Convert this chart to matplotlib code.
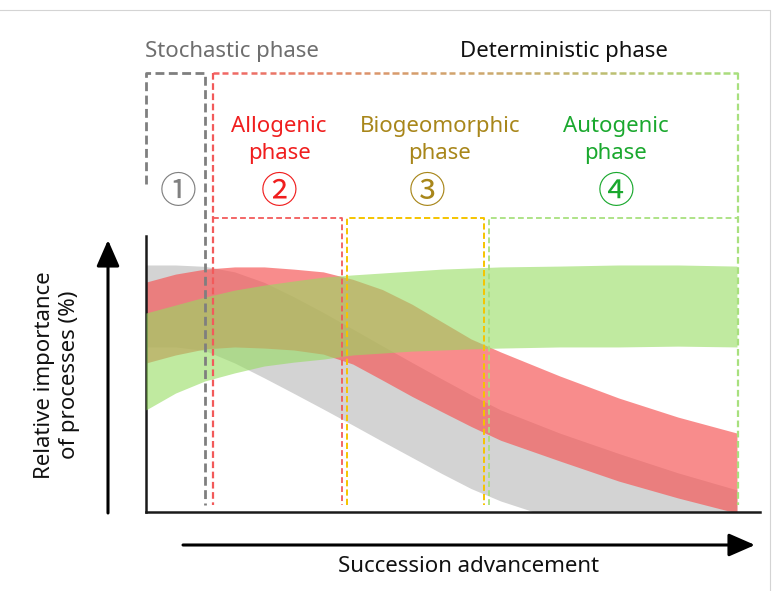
import numpy as np
import matplotlib
matplotlib.use('Agg')
import matplotlib.pyplot as plt
import matplotlib.transforms as mtransforms
from matplotlib.collections import LineCollection
from matplotlib.colors import LinearSegmentedColormap

plt.rcParams['font.family'] = ['Noto Sans', 'DejaVu Sans']

# succession advancement (0 = start, 100 = end of the drawn bands)
succession = [0, 5, 10, 15, 20, 25, 30, 35, 40, 45, 50, 55, 60, 70, 80, 90, 100]

# relative importance of processes (%), upper / lower edge of each band
stochastic_high = [89.5, 89.5, 89.0, 87.0, 83.2, 78.0, 72.3, 66.3, 60.2, 54.2, 48.3, 42.5, 37.0, 28.6, 21.2, 14.2, 8.0]
stochastic_low = [59.8, 59.8, 58.5, 54.0, 48.6, 43.0, 37.3, 31.5, 25.6, 19.8, 14.0, 8.5, 4.0, -3.0, -9.5, -15.5, -21.0]
allogenic_high = [83.3, 86.2, 88.0, 88.8, 88.8, 88.0, 87.0, 84.3, 80.6, 75.3, 69.0, 62.7, 58.0, 49.3, 41.3, 34.4, 28.6]
allogenic_low = [54.0, 56.9, 59.1, 59.8, 59.4, 58.7, 57.2, 53.6, 47.8, 41.9, 36.4, 31.0, 26.0, 18.5, 11.2, 5.1, -0.4]
autogenic_high = [72.1, 75.0, 77.9, 80.4, 82.2, 83.7, 85.1, 85.9, 86.6, 87.3, 88.0, 88.4, 88.8, 89.1, 89.5, 89.5, 89.1]
autogenic_low = [37.0, 43.1, 47.5, 50.4, 52.9, 54.3, 55.4, 56.9, 57.6, 58.3, 58.7, 59.1, 59.4, 59.8, 59.8, 60.1, 59.8]

# phase limits on the succession axis
stochastic_span = (0, 10.0)
allogenic_span = (11.3, 33.2)
biogeo_span = (34.0, 57.2)
autogenic_span = (58.0, 100.2)

W, H = 772, 591
fig = plt.figure(figsize=(W / 100, H / 100), dpi=100)
# pixel coordinates measured from the top left corner
top_px = mtransforms.Affine2D().scale(1 / W, -1 / H).translate(0, 1) + fig.transFigure

ax = fig.add_axes([146 / W, (H - 512) / H, (760 - 146) / W, (512 - 236) / H])
ax.set_xlim(0, 103.9)
ax.set_ylim(0, 100)
for s in ['top', 'right']:
    ax.spines[s].set_visible(False)
for s in ['left', 'bottom']:
    ax.spines[s].set_color('#1a1a1a')
    ax.spines[s].set_linewidth(1.8)
ax.set_xticks([])
ax.set_yticks([])

ax.fill_between(succession, stochastic_low, stochastic_high, color='#d3d3d3', lw=0, zorder=1)
ax.fill_between(succession, allogenic_low, allogenic_high, color='#f65656', alpha=0.68, lw=0, zorder=2)
ax.fill_between(succession, autogenic_low, autogenic_high, color='#96dc61', alpha=0.6, lw=0, zorder=3)

# phase boxes: x in succession units, y in pixels
xpx = mtransforms.blended_transform_factory(ax.transData, top_px)

def dashed(xs, ys, color, lw, dashes):
    ax.plot(xs, ys, transform=xpx, color=color, lw=lw, dashes=dashes,
            clip_on=False, zorder=5, solid_capstyle='butt', dash_capstyle='butt')

# stochastic box
x0, x1 = stochastic_span
dashed([x0, x0, x1, x1], [184, 73, 73, 505], '#7f7f7f', 2.0, (3.2, 1.6))

# deterministic box, top edge shades red -> olive -> green
d0, d1 = allogenic_span[0], autogenic_span[1]
grad = LinearSegmentedColormap.from_list('det', ['#f26464', '#d89a6c', '#c3b46e', '#a8e07e'])
period, dash = 1.6, 1.05
starts = np.arange(d0, d1, period)
segs = [[(s, 73), (min(s + dash, d1), 73)] for s in starts]
cols = [grad((s - d0) / (d1 - d0)) for s in starts]
lc = LineCollection(segs, colors=cols, linewidths=1.8, transform=xpx, clip_on=False, zorder=5)
ax.add_collection(lc)
dashed([d0, d0], [73, 505], '#f25a5a', 1.6, (3.0, 1.6))
dashed([d1, d1], [73, 505], '#a8e07e', 1.6, (3.0, 1.6))

# inner phase boxes
dashed([allogenic_span[0], allogenic_span[1], allogenic_span[1]], [218, 218, 505], '#f25a5a', 1.3, (3.2, 1.8))
dashed([biogeo_span[0], biogeo_span[0], biogeo_span[1], biogeo_span[1]], [505, 218, 218, 505], '#f5c400', 1.4, (3.2, 1.6))
dashed([autogenic_span[0], autogenic_span[0], autogenic_span[1]], [505, 218, 218], '#a8e07e', 1.3, (3.2, 1.8))

def label(x, y, s, color, size=16, **kw):
    fig.text(x, y, s, transform=top_px, color=color, fontsize=size,
             ha='center', va='center', **kw)

label(232, 51, 'Stochastic phase', '#6e6e6e')
label(564, 51, 'Deterministic phase', '#111111')
label(279, 140, 'Allogenic\nphase', '#f01e1e', linespacing=1.37)
label(440, 140, 'Biogeomorphic\nphase', '#a8861a', linespacing=1.37)
label(616, 140, 'Autogenic\nphase', '#1aa82e', linespacing=1.37)

circ = ['Noto Sans CJK JP', 'DejaVu Sans']
label(178, 193, '①', '#808080', size=26.5, family=circ)
label(279, 193, '②', '#f01e1e', size=26.5, family=circ)
label(427, 193, '③', '#a8861a', size=26.5, family=circ)
label(616, 193, '④', '#1aa82e', size=26.5, family=circ)

label(57, 375, 'Relative importance\nof processes (%)', '#111111', rotation=90, linespacing=1.25)
label(468, 567, 'Succession advancement', '#111111')

# axis arrows
head = dict(arrowstyle='-|>,head_length=0.8,head_width=0.35', lw=2.2, color='black',
            mutation_scale=20, shrinkA=0, shrinkB=0)
ax.annotate('', xy=(108, 240), xytext=(108, 513), xycoords=top_px, textcoords=top_px,
            arrowprops=head, annotation_clip=False)
ax.annotate('', xy=(755, 545), xytext=(183, 545), xycoords=top_px, textcoords=top_px,
            arrowprops=head, annotation_clip=False)

# thin frame along top and right edge
fig.add_artist(plt.Line2D([0, 770, 770], [10, 10, H], transform=top_px, color='#d4d4d4', lw=0.8))

fig.savefig('out.png', dpi=100)
